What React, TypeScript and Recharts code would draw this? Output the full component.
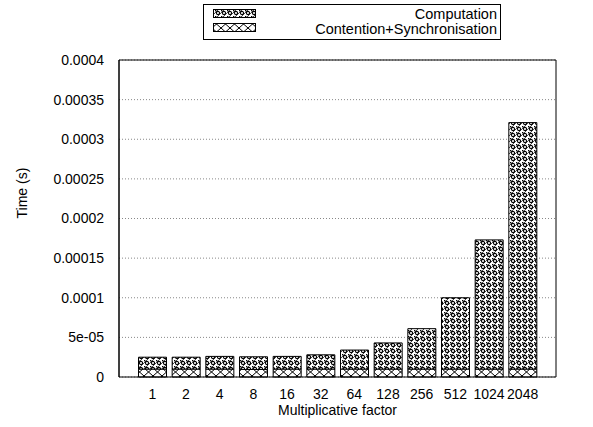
import React from "react";
import { BarChart, Bar, XAxis, YAxis, CartesianGrid } from "recharts";

const factors = ["1", "2", "4", "8", "16", "32", "64", "128", "256", "512", "1024", "2048"];
const contention = [1.0e-5, 1.0e-5, 1.0e-5, 0.95e-5, 1.0e-5, 1.0e-5, 1.0e-5, 1.0e-5, 1.0e-5, 1.0e-5, 1.0e-5, 1.0e-5];
const totals = [2.5e-5, 2.5e-5, 2.6e-5, 2.55e-5, 2.6e-5, 2.8e-5, 3.4e-5, 4.3e-5, 6.1e-5, 1.0e-4, 1.73e-4, 3.21e-4];
const yTicks = [0, 0.00005, 0.0001, 0.00015, 0.0002, 0.00025, 0.0003, 0.00035, 0.0004];
const yTickLabels = ["0", "5e-05", "0.0001", "0.00015", "0.0002", "0.00025", "0.0003", "0.00035", "0.0004"];

const data = factors.map((f, i) => ({
  name: f,
  contention: contention[i],
  computation: totals[i] - contention[i],
}));

const font = "'Liberation Sans', Arial, sans-serif";

const Patterns = () => (
  <defs>
    <pattern id="patComp" width="6" height="6" patternUnits="userSpaceOnUse">
      <rect width="6" height="6" fill="#fff" />
      <circle cx="3" cy="3" r="1.6" fill="none" stroke="#000" strokeWidth="1.1" />
      <rect x="0" y="0" width="1.4" height="1.4" fill="#000" />
      <path d="M0 3 L3 0 M3 6 L6 3" stroke="#000" strokeWidth="0.7" />
    </pattern>
    <pattern id="patCont" width="9" height="8" patternUnits="userSpaceOnUse">
      <rect width="9" height="8" fill="#fff" />
      <path d="M0 0 L9 8 M9 0 L0 8" stroke="#000" strokeWidth="1" />
    </pattern>
  </defs>
);

const LegendBox = () => (
  <svg width={299} height={37} style={{ position: "absolute", left: 203, top: 4 }}>
    <rect x={0.5} y={0.5} width={297} height={35} fill="#fff" stroke="#000" />
    <rect x={10.5} y={5.5} width={42} height={8} fill="url(#patComp)" stroke="#000" />
    <rect x={10.5} y={19.5} width={42} height={8} fill="url(#patCont)" stroke="#000" />
    <text x={294} y={15} textAnchor="end" fontSize={14.5} fontFamily={font}>Computation</text>
    <text x={294} y={30} textAnchor="end" fontSize={14.5} fontFamily={font}>Contention+Synchronisation</text>
  </svg>
);

const noTick = () => <g />;

export default function App() {
  return (
    <div style={{ position: "absolute", left: 0, top: 0, width: 593, height: 427, background: "#fff" }}>
      <BarChart
        width={593}
        height={427}
        data={data}
        margin={{ top: 59, right: 37, bottom: 0, left: 0 }}
        barCategoryGap={3}
        style={{ fontFamily: font }}
      >
        <Patterns />
        <CartesianGrid vertical={false} stroke="#888" strokeDasharray="1 2" />
        <XAxis
          dataKey="name"
          height={50}
          padding={{ left: 16.5, right: 16.5 }}
          tickLine={false}
          axisLine={{ stroke: "#000" }}
          tick={{ fill: "#000", fontSize: 14 }}
          tickMargin={6}
          interval={0}
          label={{ value: "Multiplicative factor", position: "insideBottom", offset: 12, fill: "#000", fontSize: 14 }}
        />
        <XAxis xAxisId="top" orientation="top" dataKey="name" height={1} tick={noTick} tickLine={false} axisLine={{ stroke: "#000" }} padding={{ left: 16.5, right: 16.5 }} />
        <YAxis
          width={119}
          domain={[0, 0.0004]}
          ticks={yTicks}
          tickFormatter={(v: number) => yTickLabels[yTicks.indexOf(v)] ?? String(v)}
          tickLine={false}
          axisLine={{ stroke: "#000" }}
          tick={{ fill: "#000", fontSize: 14 }}
          tickMargin={9}
          label={{ value: "Time (s)", angle: -90, position: "insideLeft", offset: 22, fill: "#000", fontSize: 14 }}
        />
        <YAxis yAxisId="inl" domain={[0, 0.0004]} ticks={yTicks} mirror width={1} tick={noTick} tickSize={6} tickLine={{ stroke: "#000" }} axisLine={{ stroke: "#000" }} />
        <YAxis yAxisId="r" orientation="right" domain={[0, 0.0004]} ticks={yTicks} mirror width={1} tick={noTick} tickSize={6} tickLine={{ stroke: "#000" }} axisLine={{ stroke: "#000" }} />
        <Bar dataKey="contention" stackId="a" fill="url(#patCont)" stroke="#000" strokeWidth={1} isAnimationActive={false} />
        <Bar dataKey="computation" stackId="a" fill="url(#patComp)" stroke="#000" strokeWidth={1} isAnimationActive={false} />
      </BarChart>
      <LegendBox />
    </div>
  );
}
